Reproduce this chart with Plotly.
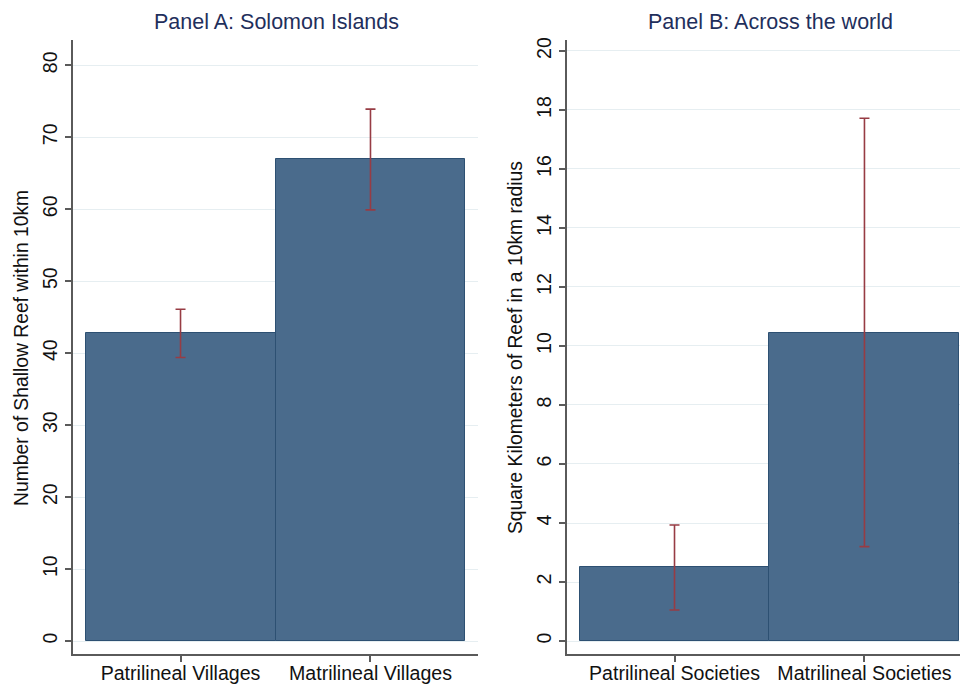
import plotly.graph_objects as go

# ---- data ----
cats_a = ["Patrilineal Villages", "Matrilineal Villages"]
mean_a = [42.8, 66.9]
lo_a = [39.4, 59.9]
hi_a = [46.1, 73.9]

cats_b = ["Patrilineal Societies", "Matrilineal Societies"]
mean_b = [2.5, 10.45]
lo_b = [1.05, 3.2]
hi_b = [3.93, 17.72]

ticks_a = [0, 10, 20, 30, 40, 50, 60, 70, 80]
ticks_b = [0, 2, 4, 6, 8, 10, 12, 14, 16, 18, 20]

W, H = 960, 684
BAR = "#4a6b8c"
BAR_LINE = "#2d5072"
ERR = "#973c44"
AX = "#5a5a5a"
GRID = "#e6eef1"
FONT = "Liberation Sans, Arial, sans-serif"
TITLE_C = "#1f2f5c"

def px(x):
    return x / W

def py(y):
    return 1 - y / H

fig = go.Figure()

for cats, mean, lo, hi, xa, ya in [
    (cats_a, mean_a, lo_a, hi_a, "x", "y"),
    (cats_b, mean_b, lo_b, hi_b, "x2", "y2"),
]:
    fig.add_trace(go.Bar(
        x=cats, y=mean, width=1.0,
        marker=dict(color=BAR, line=dict(color=BAR_LINE, width=1)),
        error_y=dict(type="data", symmetric=False,
                     array=[h - m for h, m in zip(hi, mean)],
                     arrayminus=[m - l for m, l in zip(mean, lo)],
                     color=ERR, thickness=1.6, width=5),
        xaxis=xa, yaxis=ya, showlegend=False, hoverinfo="skip",
    ))

ydom = [py(654), py(40)]
axis_common = dict(showline=True, linecolor=AX, linewidth=1.5, ticks="outside",
                   ticklen=6, tickwidth=1.5, tickcolor=AX,
                   tickfont=dict(family=FONT, size=19.6, color="#111"),
                   zeroline=False, automargin=False)

fig.update_layout(
    width=W, height=H,
    margin=dict(l=0, r=0, t=0, b=0, autoexpand=False),
    paper_bgcolor="white", plot_bgcolor="white",
    bargap=0,
    xaxis=dict(domain=[px(73), px(478)], anchor="y", type="category",
               range=[-0.566, 1.566], showgrid=False, ticklabelstandoff=-5, **axis_common),
    yaxis=dict(domain=ydom, anchor="x", range=[-1.8, 83.5],
               tickvals=ticks_a, tickangle=-90, showgrid=True,
               gridcolor=GRID, gridwidth=1.2, ticklabelstandoff=0, **axis_common),
    xaxis2=dict(domain=[px(567), 1.0], anchor="y2", type="category",
                range=[-0.566, 1.503], showgrid=False, ticklabelstandoff=-5, **axis_common),
    yaxis2=dict(domain=ydom, anchor="x2", range=[-0.44, 20.37],
                tickvals=ticks_b, tickangle=-90, showgrid=True,
                gridcolor=GRID, gridwidth=1.2, ticklabelstandoff=0, **axis_common),
)

ann = []
ann.append(dict(text="Panel A: Solomon Islands", x=px(276), y=py(22), xref="paper", yref="paper",
                showarrow=False, xanchor="center", yanchor="middle",
                font=dict(family=FONT, size=21.5, color=TITLE_C)))
ann.append(dict(text="Panel B: Across the world", x=px(770), y=py(22), xref="paper", yref="paper",
                showarrow=False, xanchor="center", yanchor="middle",
                font=dict(family=FONT, size=21.5, color=TITLE_C)))
ann.append(dict(text="Number of Shallow Reef within 10km", x=px(21), y=py(348), xref="paper", yref="paper",
                showarrow=False, xanchor="center", yanchor="middle", textangle=-90,
                font=dict(family=FONT, size=19.3, color="#111")))
ann.append(dict(text="Square Kilometers of Reef in a 10km radius", x=px(515), y=py(348), xref="paper", yref="paper",
                showarrow=False, xanchor="center", yanchor="middle", textangle=-90,
                font=dict(family=FONT, size=19.3, color="#111")))
fig.update_layout(annotations=ann)

fig.write_html("out.html", config={"displayModeBar": False},
               post_script="document.body.style.margin='0';document.body.style.overflow='hidden';")
